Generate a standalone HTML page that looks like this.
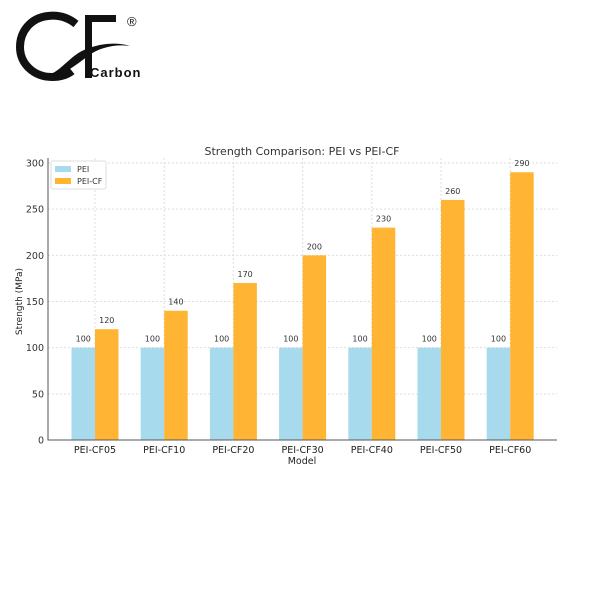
<!DOCTYPE html>
<html><head><meta charset="utf-8"><style>
body{margin:0;background:#fff;width:600px;height:600px;overflow:hidden;font-family:"DejaVu Sans","Liberation Sans",sans-serif}
</style></head><body>
<svg width="600" height="600" xmlns="http://www.w3.org/2000/svg">
<g>
<path d="M76 24 C66 16 56 15 48 16 C30 18 20 32 20 47 C20 64 34 77 52 77 C60 77 67 75 72 71" fill="none" stroke="#111" stroke-width="8"/>
<path d="M85 15 H116 V22 H92 V78 H85 Z" fill="#111"/>
<path d="M38 76 C58 78 66 58 84 50 C100 43 118 42 130 46 C116 44 100 47 88 56 C72 68 58 80 38 76 Z" fill="#111"/>
<text x="127" y="26" font-size="13" font-family="Liberation Sans,sans-serif" fill="#111">®</text>
<text x="90" y="77" font-size="13" font-weight="bold" letter-spacing="1" font-family="Liberation Sans,sans-serif" fill="#111">Carbon</text>
</g>
<g id="chart"></g>
</svg>
<script>
const categories=["PEI-CF05","PEI-CF10","PEI-CF20","PEI-CF30","PEI-CF40","PEI-CF50","PEI-CF60"];
const peiValues=[100,100,100,100,100,100,100];
const peiCfValues=[120,140,170,200,230,260,290];
const yTicks=[0,50,100,150,200,250,300];
const NS="http://www.w3.org/2000/svg";
const g=document.getElementById('chart');
const L=48,R=557,B=440,T=163;
const y=v=>B-(v/300)*(B-T);
const x=i=>95+i*69.2;
const bw=23.5;
function mk(t,a,txt){const e=document.createElementNS(NS,t);for(const k in a)e.setAttribute(k,a[k]);if(txt!==undefined)e.textContent=txt;g.appendChild(e);return e;}
yTicks.forEach(v=>{
 const l=mk('line',{x1:L,x2:R,y1:y(v),y2:y(v),stroke:'#ddd','stroke-dasharray':'2,2'});
 
 
 const t=mk('text',{x:L-4,y:y(v)+3.5,'font-size':9.5,'text-anchor':'end',fill:'#333'},v);
 
 
});
categories.forEach((c,i)=>{
 const l=mk('line',{x1:x(i),x2:x(i),y1:T-5,y2:B,stroke:'#ddd','stroke-dasharray':'2,2'});
 
 
});
categories.forEach((c,i)=>{
 const b1=mk('rect',{x:x(i)-bw,y:y(peiValues[i]),width:bw,height:B-y(peiValues[i]),fill:'#a8daee'});
 
 
 const b2=mk('rect',{x:x(i),y:y(peiCfValues[i]),width:bw,height:B-y(peiCfValues[i]),fill:'#ffb533'});
 
 
 const t1=mk('text',{x:x(i)-bw/2,y:y(peiValues[i])-6,'font-size':8,'text-anchor':'middle',fill:'#333'},peiValues[i]);
 
 
 const t2=mk('text',{x:x(i)+bw/2,y:y(peiCfValues[i])-6,'font-size':8,'text-anchor':'middle',fill:'#333'},peiCfValues[i]);
 
 
 const xl=mk('text',{x:x(i),y:B+13,'font-size':9.5,'text-anchor':'middle',fill:'#222'},c);
 
 
});
const ax=mk('path',{d:`M${L} ${T-5} V${B} H${R}`,fill:'none',stroke:'#555','stroke-width':1});


const ti=mk('text',{x:302,y:155,'font-size':11,'text-anchor':'middle',fill:'#333'},'Strength Comparison: PEI vs PEI-CF');


const xt=mk('text',{x:302,y:464,'font-size':9.5,'text-anchor':'middle',fill:'#222'},'Model');


const yt=mk('text',{x:0,y:0,'font-size':9,'text-anchor':'middle',fill:'#222',transform:`translate(22,${(B+T)/2}) rotate(-90)`},'Strength (MPa)');


const lg=mk('rect',{x:51,y:161,width:55,height:28,fill:'#fff',stroke:'#ddd',rx:2});


const s1=mk('rect',{x:55,y:166,width:16,height:6,fill:'#a8daee'});


const l1=mk('text',{x:77,y:172,'font-size':8,fill:'#333'},'PEI');


const s2=mk('rect',{x:55,y:178,width:16,height:6,fill:'#ffb533'});


const l2=mk('text',{x:77,y:184,'font-size':8,fill:'#333'},'PEI-CF');


</script>
</body></html>
